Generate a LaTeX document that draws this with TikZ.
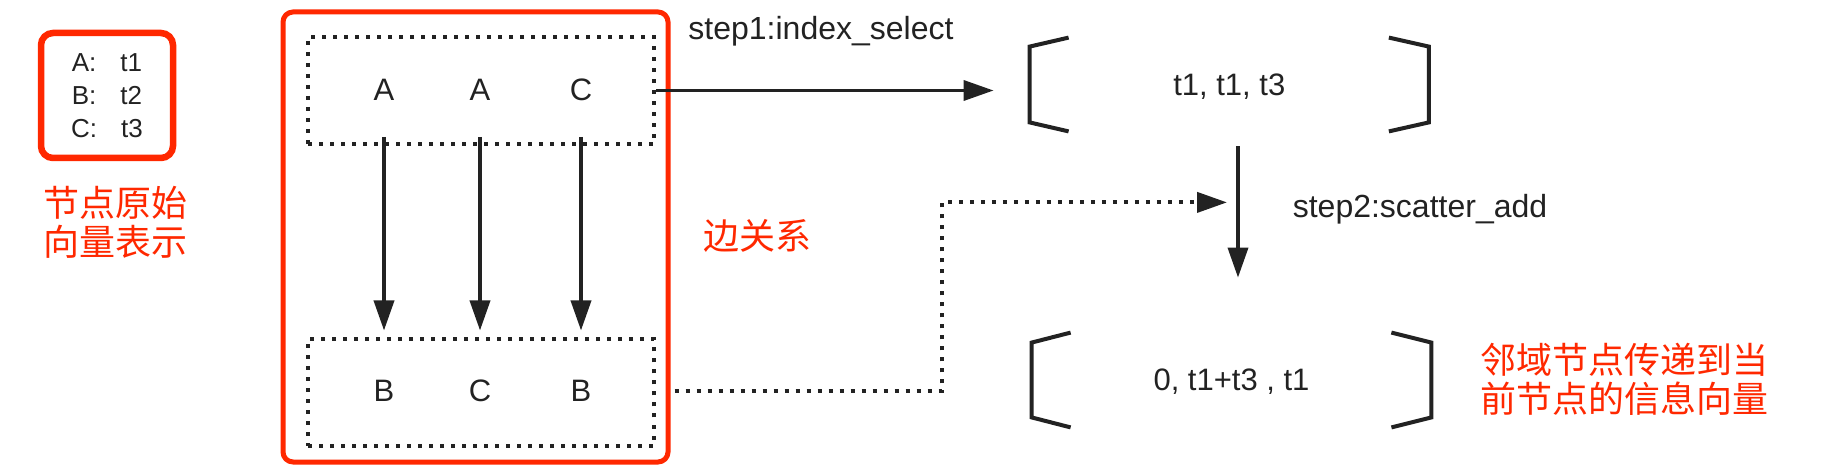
\documentclass[tikz,border=0pt]{standalone}
\usepackage{fontspec}
\setmainfont{Liberation Sans}
\newfontfamily\cjk{Noto Sans CJK SC}
\usetikzlibrary{arrows.meta,calc}
\definecolor{myred}{RGB}{255,40,0}
\definecolor{ink}{RGB}{34,34,34}
\begin{document}
\begin{tikzpicture}[x=0.5pt,y=-0.5pt,
  every node/.style={text=ink, inner sep=0pt},
  redbox/.style={draw=myred, rounded corners=5pt, line width=2.5pt},
  dotbox/.style={draw=ink, line width=2pt, dash pattern=on 2pt off 3.5pt},
  arr/.style={draw=ink, line width=1.8pt, -{Triangle[length=15pt,width=10pt]}},
  dotarr/.style={draw=ink, line width=2pt, dash pattern=on 2pt off 3.5pt, -{Triangle[length=15pt,width=10pt]}},
  brk/.style={draw=ink, line width=2pt},
  lbl/.style={font=\fontsize{15.5}{18}\selectfont},
  steplbl/.style={font=\fontsize{16}{18}\selectfont, anchor=base},
  redlbl/.style={text=myred, font=\cjk\fontsize{18}{19.5}\selectfont, align=left},
]
\useasboundingbox (0,0) rectangle (1822,470);

% legend
\node[redbox, line width=3.25pt, rounded corners=6pt, minimum width=66pt, minimum height=62.5pt,
      font=\fontsize{13}{16.5}\selectfont, align=center] (legend) at (107,95.5)
  {A:\hspace{12pt}t1\\B:\hspace{12pt}t2\\C:\hspace{12pt}t3};
\node[redlbl] (legendlbl) at (115.5,222) {节点原始\\向量表示};

% edge relation box
\node[redbox, minimum width=192.5pt, minimum height=225pt] (edgebox) at (475.5,237) {};
\node[dotbox, minimum width=173pt, minimum height=53.5pt] (srcbox) at (481,90.5) {};
\node[dotbox, minimum width=173pt, minimum height=53pt] (dstbox) at (481,392.5) {};
\node[lbl] (a1) at (384,90) {A};
\node[lbl] (a2) at (480,90) {A};
\node[lbl] (a3) at (581,90) {C};
\node[lbl] (b1) at (384,391) {B};
\node[lbl] (b2) at (480,391) {C};
\node[lbl] (b3) at (581,391) {B};
\foreach \s/\d in {a1/b1,a2/b2,a3/b3}
  \draw[arr] ($(\s|-srcbox.south)+(0,-9)$) -- ($(\d|-dstbox.north)+(0,-7)$);
\node[redlbl] (edgelbl) at (757,236) {边关系};

% results
\node[lbl, text depth=0pt, minimum width=199.25pt, minimum height=37.5pt] (res1) at (1229.25,84.5) {t1, t1, t3};
\node[lbl, text depth=0pt, minimum width=199.5pt, minimum height=37pt] (res2) at (1231.5,380) {0, t1+t3 , t1};
\draw[brk] ($(res1.north west)+(39,-9)$) -- (res1.north west) -- (res1.south west) -- ($(res1.south west)+(39,9)$);
\draw[brk] ($(res1.north east)+(-40,-9)$) -- (res1.north east) -- (res1.south east) -- ($(res1.south east)+(-40,9)$);
\draw[brk] ($(res2.north west)+(39,-10)$) -- (res2.north west) -- (res2.south west) -- ($(res2.south west)+(39,10)$);
\draw[brk] ($(res2.north east)+(-40,-10)$) -- (res2.north east) -- (res2.south east) -- ($(res2.south east)+(-40,10)$);

% step 1
\node[steplbl] (s1) at (821,40) {step1:index\_select};
\draw[arr] (srcbox.east) -- ($(srcbox.east -| res1.west)+(-36,0)$);

% step 2
\node[steplbl] (s2) at (1420,218) {step2:scatter\_add};
\draw[arr] ($(res1.south)+(8.75,24)$) -- ($(res2.north)+(6.5,-65)$);

% dotted connector
\coordinate (join) at ($(res1.south)+(-2.25,80)$);
\draw[dotarr] ($(edgebox.east |- b3)+(4,0)$) -| ($(join)+(-285,0)$) -- (join);

\node[redlbl] (msglbl) at (1624,379) {邻域节点传递到当\\前节点的信息向量};
\end{tikzpicture}
\end{document}
